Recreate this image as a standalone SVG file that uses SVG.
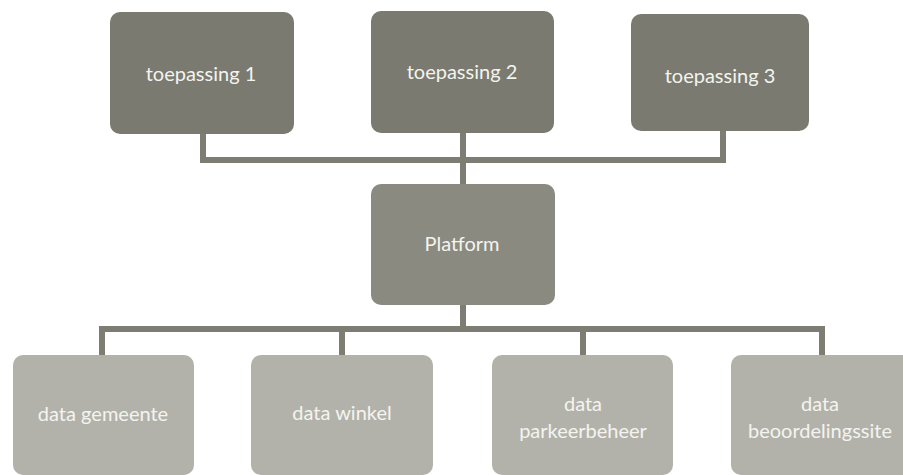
<svg xmlns="http://www.w3.org/2000/svg" width="903" height="475" viewBox="0 0 903 475">
<style>
.top{fill:#7a7a70}
.mid{fill:#8a8a80}
.bot{fill:#b2b2ab}
.lbl{font-family:Lato,"Open Sans","Liberation Sans",sans-serif;font-size:20px;fill:#f4f4ef;text-anchor:middle}
.conn{fill:none;stroke:#7d7d73;stroke-width:6;stroke-linejoin:miter}
</style>
<rect width="903" height="475" fill="#ffffff"/>
<g id="connectors">
<path class="conn" d="M203,134 V160 H723 V131"/>
<path class="conn" d="M463,133 V184"/>
<path class="conn" d="M463,305 V329"/>
<path class="conn" d="M102,355 V329 H822 V355"/>
<path class="conn" d="M342,329 V355"/>
<path class="conn" d="M583,329 V355"/>
</g>
<g id="toepassing1"><rect class="top" x="110" y="12" width="184" height="122" rx="10"/><text class="lbl" x="201" y="81">toepassing 1</text></g>
<g id="toepassing2"><rect class="top" x="371" y="11" width="183" height="122" rx="10"/><text class="lbl" x="462" y="79">toepassing 2</text></g>
<g id="toepassing3"><rect class="top" x="631" y="14" width="178" height="117" rx="10"/><text class="lbl" x="720" y="83">toepassing 3</text></g>
<g id="platform"><rect class="mid" x="371" y="184" width="184" height="121" rx="10"/><text class="lbl" x="462" y="251">Platform</text></g>
<g id="data-gemeente"><rect class="bot" x="13" y="355" width="181" height="120" rx="10"/><text class="lbl" x="103" y="421">data gemeente</text></g>
<g id="data-winkel"><rect class="bot" x="251" y="355" width="182" height="120" rx="10"/><text class="lbl" x="342" y="420">data winkel</text></g>
<g id="data-parkeerbeheer"><rect class="bot" x="492" y="355" width="181" height="120" rx="10"/><text class="lbl" x="583" y="411">data</text><text class="lbl" x="583" y="438">parkeerbeheer</text></g>
<g id="data-beoordelingssite"><rect class="bot" x="731" y="355" width="182" height="120" rx="10"/><text class="lbl" x="820" y="411">data</text><text class="lbl" x="820" y="438">beoordelingssite</text></g>
</svg>
